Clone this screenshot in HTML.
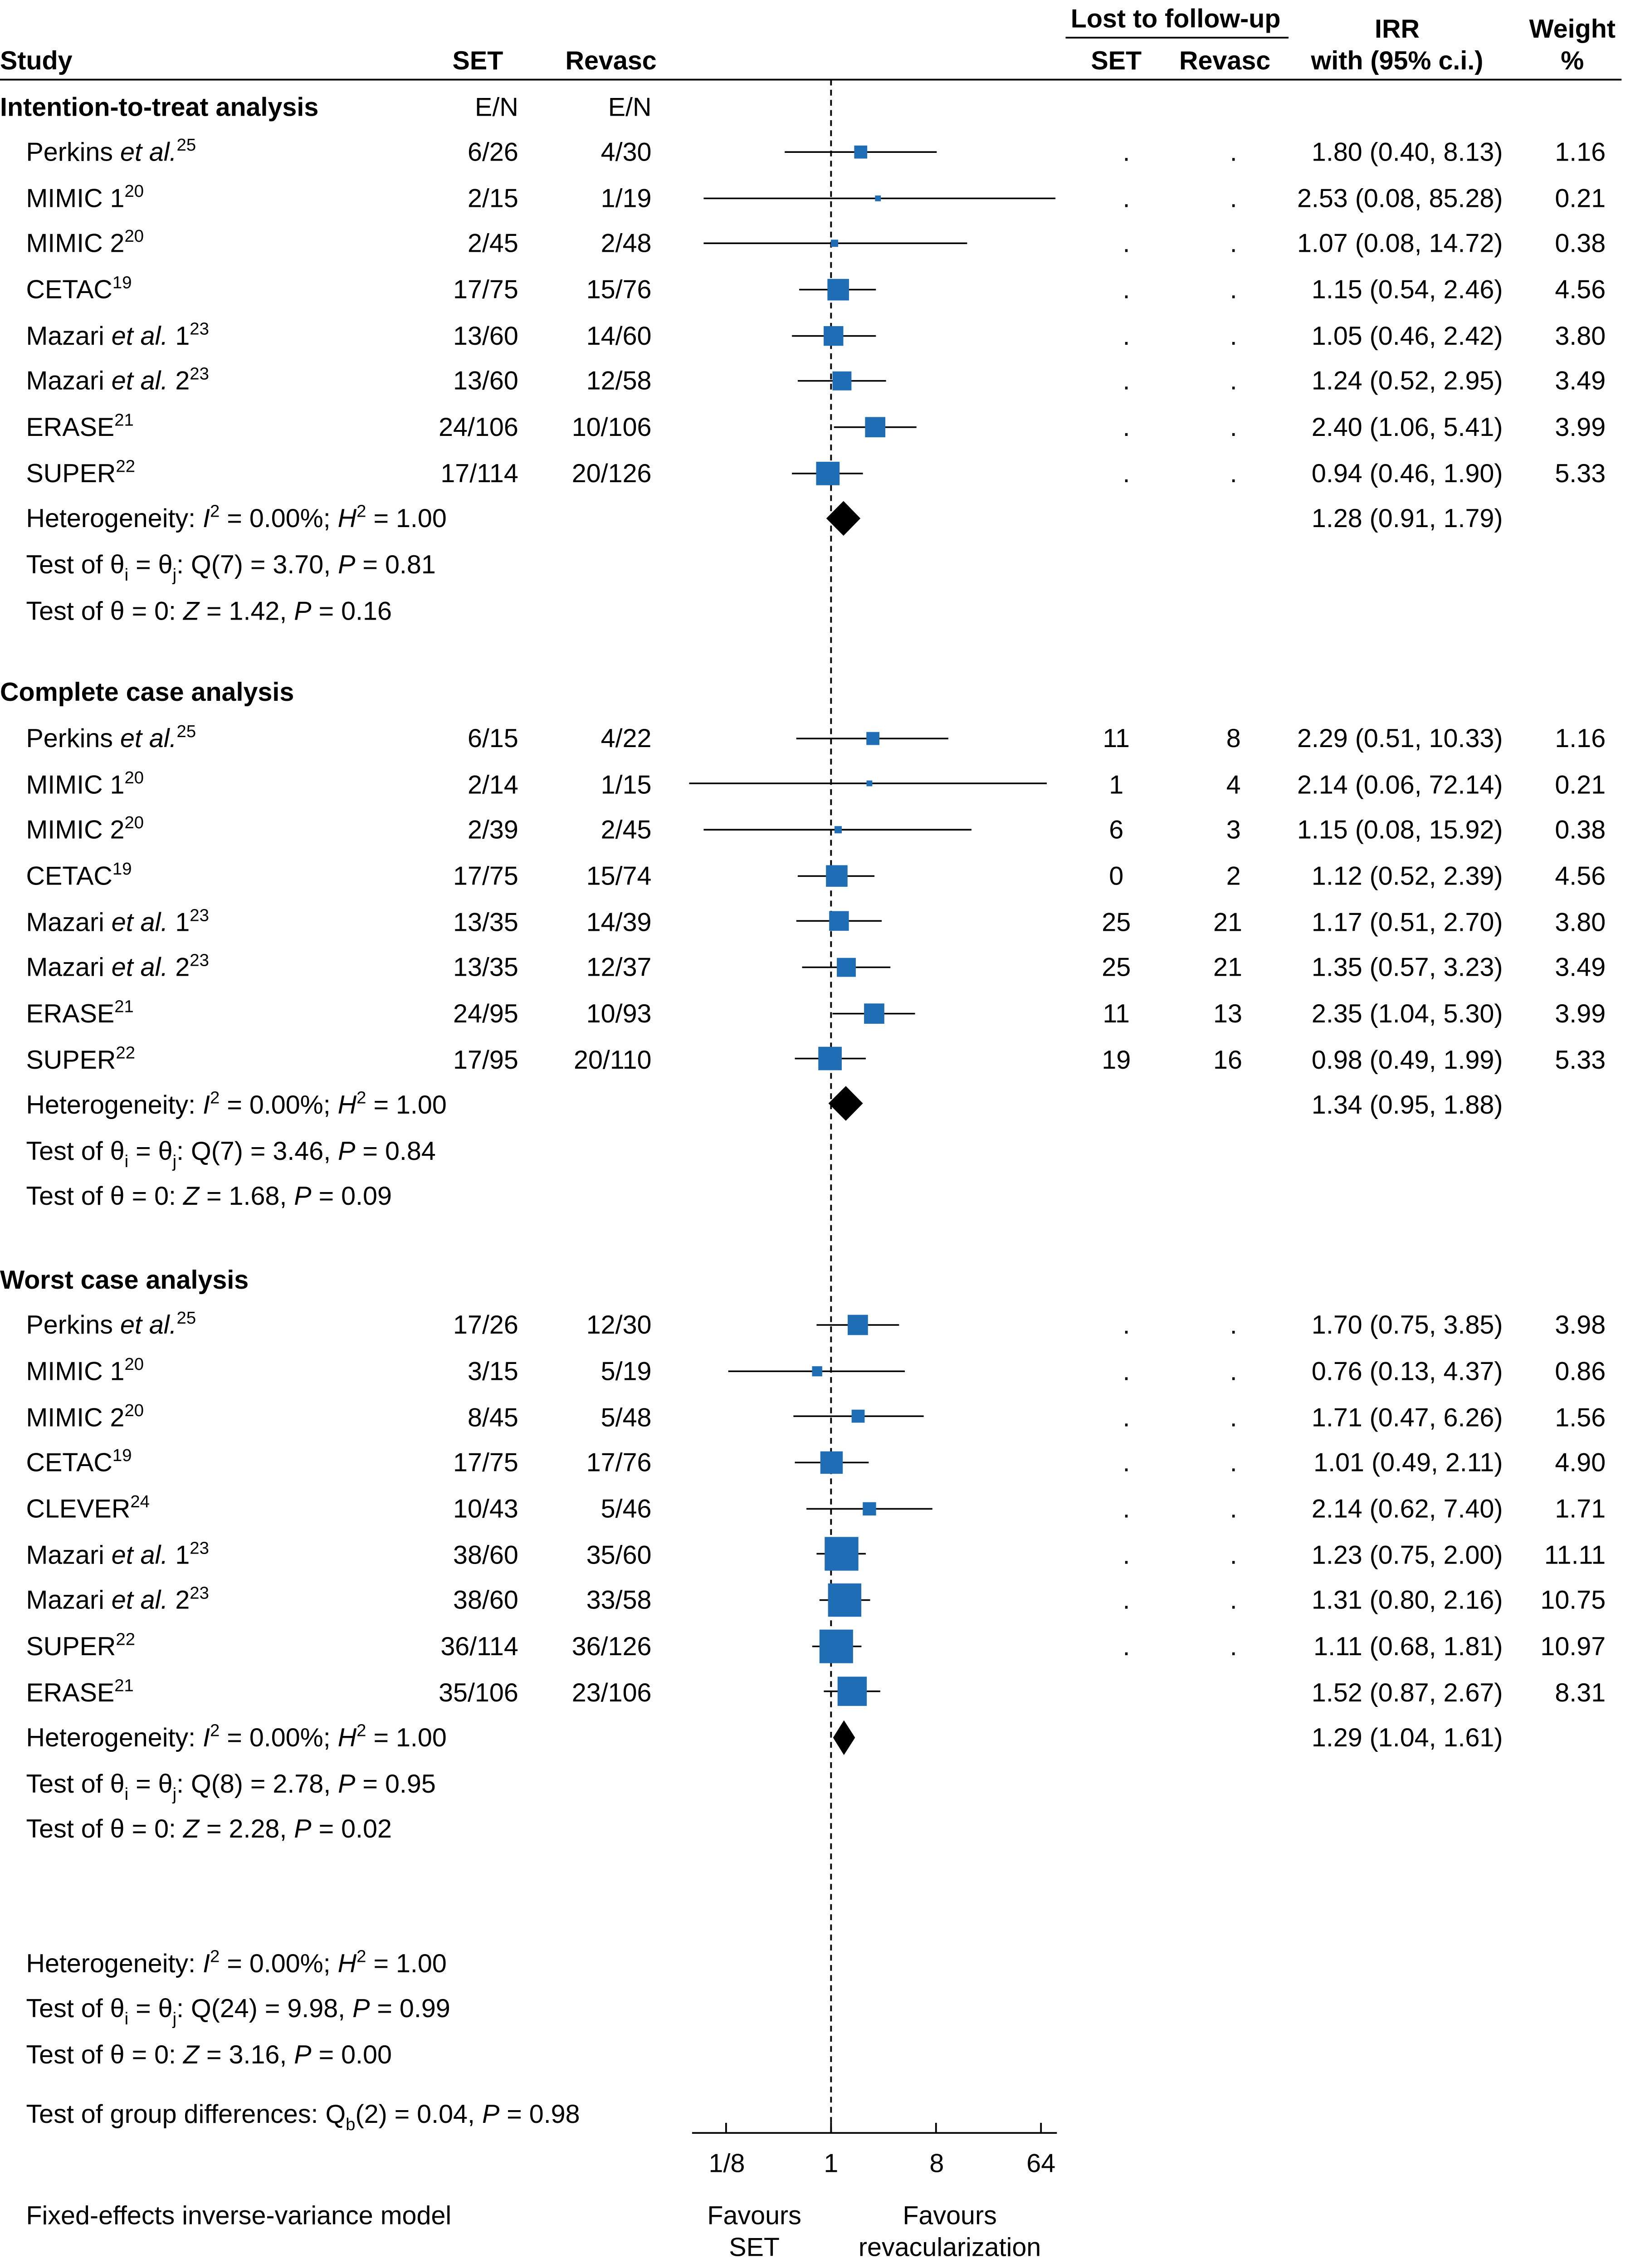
<!DOCTYPE html>
<html><head><meta charset="utf-8"><style>
html,body{margin:0;padding:0;background:#fff;width:3627px;height:5078px;overflow:hidden;}
svg{display:block;position:absolute;left:0;top:0;}
text{font-family:"Liberation Sans",Arial,sans-serif;font-size:18px;fill:#000;}
.b{font-weight:bold;}
.e{text-anchor:end;}
.m{text-anchor:middle;}
.sp{font-size:12px;}
</style></head><body>
<svg width="3627" height="5078" viewBox="0 0 1136.2 1590.7" preserveAspectRatio="none" xmlns="http://www.w3.org/2000/svg">
<rect width="1140" height="1600" fill="#fff"/>
<!-- header -->
<text x="0" y="48" class="b">Study</text>
<text x="330" y="48" class="b m">SET</text>
<text x="422" y="48" class="b m">Revasc</text>
<text x="812" y="19" class="b m">Lost to follow-up</text>
<line x1="736" y1="26" x2="890" y2="26" stroke="#000" stroke-width="1.2"/>
<text x="771" y="48" class="b m">SET</text>
<text x="846" y="48" class="b m">Revasc</text>
<text x="965" y="26" class="b m">IRR</text>
<text x="965" y="48" class="b m">with (95% c.i.)</text>
<text x="1086" y="26" class="b m">Weight</text>
<text x="1086" y="48" class="b m">%</text>
<line x1="0" y1="55" x2="1120" y2="55" stroke="#000" stroke-width="1.2"/>
<line x1="574" y1="55" x2="574" y2="1473" stroke="#000" stroke-width="1.2" stroke-dasharray="4,3"/>

<!-- ITT -->
<text x="0" y="80" class="b">Intention-to-treat analysis</text>
<text x="358" y="80" class="e">E/N</text>
<text x="450" y="80" class="e">E/N</text>
<g>
<text x="18" y="111">Perkins <tspan font-style="italic">et al.</tspan><tspan class="sp" dy="-7">25</tspan></text>
<text x="358" y="111" class="e">6/26</text><text x="450" y="111" class="e">4/30</text>
<text x="778" y="111" class="m">.</text><text x="852" y="111" class="m">.</text>
<text x="1038" y="111" class="e">1.80 (0.40, 8.13)</text><text x="1109" y="111" class="e">1.16</text>
<text x="18" y="143">MIMIC 1<tspan class="sp" dy="-7">20</tspan></text>
<text x="358" y="143" class="e">2/15</text><text x="450" y="143" class="e">1/19</text>
<text x="778" y="143" class="m">.</text><text x="852" y="143" class="m">.</text>
<text x="1038" y="143" class="e">2.53 (0.08, 85.28)</text><text x="1109" y="143" class="e">0.21</text>
<text x="18" y="174">MIMIC 2<tspan class="sp" dy="-7">20</tspan></text>
<text x="358" y="174" class="e">2/45</text><text x="450" y="174" class="e">2/48</text>
<text x="778" y="174" class="m">.</text><text x="852" y="174" class="m">.</text>
<text x="1038" y="174" class="e">1.07 (0.08, 14.72)</text><text x="1109" y="174" class="e">0.38</text>
<text x="18" y="206">CETAC<tspan class="sp" dy="-7">19</tspan></text>
<text x="358" y="206" class="e">17/75</text><text x="450" y="206" class="e">15/76</text>
<text x="778" y="206" class="m">.</text><text x="852" y="206" class="m">.</text>
<text x="1038" y="206" class="e">1.15 (0.54, 2.46)</text><text x="1109" y="206" class="e">4.56</text>
<text x="18" y="238">Mazari <tspan font-style="italic">et al.</tspan> 1<tspan class="sp" dy="-7">23</tspan></text>
<text x="358" y="238" class="e">13/60</text><text x="450" y="238" class="e">14/60</text>
<text x="778" y="238" class="m">.</text><text x="852" y="238" class="m">.</text>
<text x="1038" y="238" class="e">1.05 (0.46, 2.42)</text><text x="1109" y="238" class="e">3.80</text>
<text x="18" y="269">Mazari <tspan font-style="italic">et al.</tspan> 2<tspan class="sp" dy="-7">23</tspan></text>
<text x="358" y="269" class="e">13/60</text><text x="450" y="269" class="e">12/58</text>
<text x="778" y="269" class="m">.</text><text x="852" y="269" class="m">.</text>
<text x="1038" y="269" class="e">1.24 (0.52, 2.95)</text><text x="1109" y="269" class="e">3.49</text>
<text x="18" y="301">ERASE<tspan class="sp" dy="-7">21</tspan></text>
<text x="358" y="301" class="e">24/106</text><text x="450" y="301" class="e">10/106</text>
<text x="778" y="301" class="m">.</text><text x="852" y="301" class="m">.</text>
<text x="1038" y="301" class="e">2.40 (1.06, 5.41)</text><text x="1109" y="301" class="e">3.99</text>
<text x="18" y="333">SUPER<tspan class="sp" dy="-7">22</tspan></text>
<text x="358" y="333" class="e">17/114</text><text x="450" y="333" class="e">20/126</text>
<text x="778" y="333" class="m">.</text><text x="852" y="333" class="m">.</text>
<text x="1038" y="333" class="e">0.94 (0.46, 1.90)</text><text x="1109" y="333" class="e">5.33</text>
<text x="18" y="364">Heterogeneity: <tspan font-style="italic">I</tspan><tspan class="sp" dy="-7">2</tspan><tspan dy="7"> = 0.00%; </tspan><tspan font-style="italic">H</tspan><tspan class="sp" dy="-7">2</tspan><tspan dy="7"> = 1.00</tspan></text>
<text x="1038" y="364" class="e">1.28 (0.91, 1.79)</text>
<text x="18" y="396">Test of θ<tspan class="sp" dy="5">i</tspan><tspan dy="-5"> = θ</tspan><tspan class="sp" dy="5">j</tspan><tspan dy="-5">: Q(7) = 3.70, </tspan><tspan font-style="italic">P</tspan> = 0.81</text>
<text x="18" y="428">Test of θ = 0: <tspan font-style="italic">Z</tspan> = 1.42, <tspan font-style="italic">P</tspan> = 0.16</text>
</g>
<g stroke="#000" stroke-width="1.1">
<line x1="542" y1="105" x2="647" y2="105"/>
<line x1="486" y1="137" x2="729" y2="137"/>
<line x1="486" y1="168" x2="668" y2="168"/>
<line x1="552" y1="200" x2="605" y2="200"/>
<line x1="547" y1="232" x2="605" y2="232"/>
<line x1="551" y1="263" x2="612" y2="263"/>
<line x1="576" y1="295" x2="633" y2="295"/>
<line x1="547" y1="327" x2="596" y2="327"/>
</g>
<g fill="#1f6db5">
<rect x="590" y="100.5" width="9" height="9"/>
<rect x="604.4" y="135" width="4" height="4"/>
<rect x="573.9" y="165.5" width="5" height="5"/>
<rect x="571.5" y="192.6" width="14.9" height="14.9"/>
<rect x="568.9" y="225.2" width="13.6" height="13.6"/>
<rect x="575" y="256.5" width="13.1" height="13.1"/>
<rect x="597.5" y="288" width="14" height="14"/>
<rect x="563.7" y="318.9" width="16.2" height="16.2"/>
</g>
<polygon points="570.7,358 582.6,346 594.3,358 582.6,370" fill="#000"/>

<!-- Complete case -->
<text x="0" y="484" class="b">Complete case analysis</text>
<g>
<text x="18" y="516">Perkins <tspan font-style="italic">et al.</tspan><tspan class="sp" dy="-7">25</tspan></text>
<text x="358" y="516" class="e">6/15</text><text x="450" y="516" class="e">4/22</text>
<text x="771" y="516" class="m">11</text><text x="852" y="516" class="m">8</text>
<text x="1038" y="516" class="e">2.29 (0.51, 10.33)</text><text x="1109" y="516" class="e">1.16</text>
<text x="18" y="548">MIMIC 1<tspan class="sp" dy="-7">20</tspan></text>
<text x="358" y="548" class="e">2/14</text><text x="450" y="548" class="e">1/15</text>
<text x="771" y="548" class="m">1</text><text x="852" y="548" class="m">4</text>
<text x="1038" y="548" class="e">2.14 (0.06, 72.14)</text><text x="1109" y="548" class="e">0.21</text>
<text x="18" y="579">MIMIC 2<tspan class="sp" dy="-7">20</tspan></text>
<text x="358" y="579" class="e">2/39</text><text x="450" y="579" class="e">2/45</text>
<text x="771" y="579" class="m">6</text><text x="852" y="579" class="m">3</text>
<text x="1038" y="579" class="e">1.15 (0.08, 15.92)</text><text x="1109" y="579" class="e">0.38</text>
<text x="18" y="611">CETAC<tspan class="sp" dy="-7">19</tspan></text>
<text x="358" y="611" class="e">17/75</text><text x="450" y="611" class="e">15/74</text>
<text x="771" y="611" class="m">0</text><text x="852" y="611" class="m">2</text>
<text x="1038" y="611" class="e">1.12 (0.52, 2.39)</text><text x="1109" y="611" class="e">4.56</text>
<text x="18" y="643">Mazari <tspan font-style="italic">et al.</tspan> 1<tspan class="sp" dy="-7">23</tspan></text>
<text x="358" y="643" class="e">13/35</text><text x="450" y="643" class="e">14/39</text>
<text x="771" y="643" class="m">25</text><text x="848" y="643" class="m">21</text>
<text x="1038" y="643" class="e">1.17 (0.51, 2.70)</text><text x="1109" y="643" class="e">3.80</text>
<text x="18" y="674">Mazari <tspan font-style="italic">et al.</tspan> 2<tspan class="sp" dy="-7">23</tspan></text>
<text x="358" y="674" class="e">13/35</text><text x="450" y="674" class="e">12/37</text>
<text x="771" y="674" class="m">25</text><text x="848" y="674" class="m">21</text>
<text x="1038" y="674" class="e">1.35 (0.57, 3.23)</text><text x="1109" y="674" class="e">3.49</text>
<text x="18" y="706">ERASE<tspan class="sp" dy="-7">21</tspan></text>
<text x="358" y="706" class="e">24/95</text><text x="450" y="706" class="e">10/93</text>
<text x="771" y="706" class="m">11</text><text x="848" y="706" class="m">13</text>
<text x="1038" y="706" class="e">2.35 (1.04, 5.30)</text><text x="1109" y="706" class="e">3.99</text>
<text x="18" y="738">SUPER<tspan class="sp" dy="-7">22</tspan></text>
<text x="358" y="738" class="e">17/95</text><text x="450" y="738" class="e">20/110</text>
<text x="771" y="738" class="m">19</text><text x="848" y="738" class="m">16</text>
<text x="1038" y="738" class="e">0.98 (0.49, 1.99)</text><text x="1109" y="738" class="e">5.33</text>
<text x="18" y="769">Heterogeneity: <tspan font-style="italic">I</tspan><tspan class="sp" dy="-7">2</tspan><tspan dy="7"> = 0.00%; </tspan><tspan font-style="italic">H</tspan><tspan class="sp" dy="-7">2</tspan><tspan dy="7"> = 1.00</tspan></text>
<text x="1038" y="769" class="e">1.34 (0.95, 1.88)</text>
<text x="18" y="801">Test of θ<tspan class="sp" dy="5">i</tspan><tspan dy="-5"> = θ</tspan><tspan class="sp" dy="5">j</tspan><tspan dy="-5">: Q(7) = 3.46, </tspan><tspan font-style="italic">P</tspan> = 0.84</text>
<text x="18" y="832">Test of θ = 0: <tspan font-style="italic">Z</tspan> = 1.68, <tspan font-style="italic">P</tspan> = 0.09</text>
</g>
<g stroke="#000" stroke-width="1.1">
<line x1="550" y1="510" x2="655" y2="510"/>
<line x1="476" y1="541" x2="723" y2="541"/>
<line x1="486" y1="573" x2="671" y2="573"/>
<line x1="551" y1="605" x2="604" y2="605"/>
<line x1="550" y1="636" x2="609" y2="636"/>
<line x1="554" y1="668" x2="615" y2="668"/>
<line x1="575" y1="700" x2="632" y2="700"/>
<line x1="549" y1="731" x2="598" y2="731"/>
</g>
<g fill="#1f6db5">
<rect x="598.4" y="505.5" width="9" height="9"/>
<rect x="598.5" y="539" width="4" height="4"/>
<rect x="576.4" y="570.5" width="5" height="5"/>
<rect x="570.5" y="597.5" width="14.9" height="14.9"/>
<rect x="572.7" y="629.2" width="13.6" height="13.6"/>
<rect x="578" y="661.5" width="13.1" height="13.1"/>
<rect x="596.8" y="693" width="14" height="14"/>
<rect x="565.2" y="722.9" width="16.2" height="16.2"/>
</g>
<polygon points="572.2,762 584.2,750 596,762 584.2,774" fill="#000"/>

<!-- Worst case -->
<text x="0" y="890" class="b">Worst case analysis</text>
<g>
<text x="18" y="921">Perkins <tspan font-style="italic">et al.</tspan><tspan class="sp" dy="-7">25</tspan></text>
<text x="358" y="921" class="e">17/26</text><text x="450" y="921" class="e">12/30</text>
<text x="778" y="921" class="m">.</text><text x="852" y="921" class="m">.</text>
<text x="1038" y="921" class="e">1.70 (0.75, 3.85)</text><text x="1109" y="921" class="e">3.98</text>
<text x="18" y="953">MIMIC 1<tspan class="sp" dy="-7">20</tspan></text>
<text x="358" y="953" class="e">3/15</text><text x="450" y="953" class="e">5/19</text>
<text x="778" y="953" class="m">.</text><text x="852" y="953" class="m">.</text>
<text x="1038" y="953" class="e">0.76 (0.13, 4.37)</text><text x="1109" y="953" class="e">0.86</text>
<text x="18" y="985">MIMIC 2<tspan class="sp" dy="-7">20</tspan></text>
<text x="358" y="985" class="e">8/45</text><text x="450" y="985" class="e">5/48</text>
<text x="778" y="985" class="m">.</text><text x="852" y="985" class="m">.</text>
<text x="1038" y="985" class="e">1.71 (0.47, 6.26)</text><text x="1109" y="985" class="e">1.56</text>
<text x="18" y="1016">CETAC<tspan class="sp" dy="-7">19</tspan></text>
<text x="358" y="1016" class="e">17/75</text><text x="450" y="1016" class="e">17/76</text>
<text x="778" y="1016" class="m">.</text><text x="852" y="1016" class="m">.</text>
<text x="1038" y="1016" class="e">1.01 (0.49, 2.11)</text><text x="1109" y="1016" class="e">4.90</text>
<text x="18" y="1048">CLEVER<tspan class="sp" dy="-7">24</tspan></text>
<text x="358" y="1048" class="e">10/43</text><text x="450" y="1048" class="e">5/46</text>
<text x="778" y="1048" class="m">.</text><text x="852" y="1048" class="m">.</text>
<text x="1038" y="1048" class="e">2.14 (0.62, 7.40)</text><text x="1109" y="1048" class="e">1.71</text>
<text x="18" y="1080">Mazari <tspan font-style="italic">et al.</tspan> 1<tspan class="sp" dy="-7">23</tspan></text>
<text x="358" y="1080" class="e">38/60</text><text x="450" y="1080" class="e">35/60</text>
<text x="778" y="1080" class="m">.</text><text x="852" y="1080" class="m">.</text>
<text x="1038" y="1080" class="e">1.23 (0.75, 2.00)</text><text x="1109" y="1080" class="e">11.11</text>
<text x="18" y="1111">Mazari <tspan font-style="italic">et al.</tspan> 2<tspan class="sp" dy="-7">23</tspan></text>
<text x="358" y="1111" class="e">38/60</text><text x="450" y="1111" class="e">33/58</text>
<text x="778" y="1111" class="m">.</text><text x="852" y="1111" class="m">.</text>
<text x="1038" y="1111" class="e">1.31 (0.80, 2.16)</text><text x="1109" y="1111" class="e">10.75</text>
<text x="18" y="1143">SUPER<tspan class="sp" dy="-7">22</tspan></text>
<text x="358" y="1143" class="e">36/114</text><text x="450" y="1143" class="e">36/126</text>
<text x="778" y="1143" class="m">.</text><text x="852" y="1143" class="m">.</text>
<text x="1038" y="1143" class="e">1.11 (0.68, 1.81)</text><text x="1109" y="1143" class="e">10.97</text>
<text x="18" y="1175">ERASE<tspan class="sp" dy="-7">21</tspan></text>
<text x="358" y="1175" class="e">35/106</text><text x="450" y="1175" class="e">23/106</text>
<text x="1038" y="1175" class="e">1.52 (0.87, 2.67)</text><text x="1109" y="1175" class="e">8.31</text>
<text x="18" y="1206">Heterogeneity: <tspan font-style="italic">I</tspan><tspan class="sp" dy="-7">2</tspan><tspan dy="7"> = 0.00%; </tspan><tspan font-style="italic">H</tspan><tspan class="sp" dy="-7">2</tspan><tspan dy="7"> = 1.00</tspan></text>
<text x="1038" y="1206" class="e">1.29 (1.04, 1.61)</text>
<text x="18" y="1238">Test of θ<tspan class="sp" dy="5">i</tspan><tspan dy="-5"> = θ</tspan><tspan class="sp" dy="5">j</tspan><tspan dy="-5">: Q(8) = 2.78, </tspan><tspan font-style="italic">P</tspan> = 0.95</text>
<text x="18" y="1269">Test of θ = 0: <tspan font-style="italic">Z</tspan> = 2.28, <tspan font-style="italic">P</tspan> = 0.02</text>
</g>
<g stroke="#000" stroke-width="1.1">
<line x1="564" y1="915" x2="621" y2="915"/>
<line x1="503" y1="947" x2="625" y2="947"/>
<line x1="548" y1="978" x2="638" y2="978"/>
<line x1="549" y1="1010" x2="600" y2="1010"/>
<line x1="557" y1="1042" x2="644" y2="1042"/>
<line x1="564" y1="1073" x2="598" y2="1073"/>
<line x1="566" y1="1105" x2="601" y2="1105"/>
<line x1="561" y1="1137" x2="595" y2="1137"/>
<line x1="569" y1="1168" x2="608" y2="1168"/>
</g>
<g fill="#1f6db5">
<rect x="585.5" y="908" width="14" height="14"/>
<rect x="560.9" y="943.5" width="7" height="7"/>
<rect x="588.2" y="973.5" width="9" height="9"/>
<rect x="566.6" y="1002.3" width="15.5" height="15.5"/>
<rect x="595.9" y="1037.4" width="9.2" height="9.2"/>
<rect x="569.6" y="1061.4" width="23.3" height="23.3"/>
<rect x="571.9" y="1093.5" width="23" height="23"/>
<rect x="566" y="1125.4" width="23.2" height="23.2"/>
<rect x="578.5" y="1157.9" width="20.2" height="20.2"/>
</g>
<polygon points="575.4,1200 582.9,1188 590.6,1200 582.9,1212" fill="#000"/>

<!-- overall -->
<text x="18" y="1362">Heterogeneity: <tspan font-style="italic">I</tspan><tspan class="sp" dy="-7">2</tspan><tspan dy="7"> = 0.00%; </tspan><tspan font-style="italic">H</tspan><tspan class="sp" dy="-7">2</tspan><tspan dy="7"> = 1.00</tspan></text>
<text x="18" y="1393">Test of θ<tspan class="sp" dy="5">i</tspan><tspan dy="-5"> = θ</tspan><tspan class="sp" dy="5">j</tspan><tspan dy="-5">: Q(24) = 9.98, </tspan><tspan font-style="italic">P</tspan> = 0.99</text>
<text x="18" y="1425">Test of θ = 0: <tspan font-style="italic">Z</tspan> = 3.16, <tspan font-style="italic">P</tspan> = 0.00</text>
<text x="18" y="1466">Test of group differences: Q<tspan class="sp" dy="5">b</tspan><tspan dy="-5">(2) = 0.04, </tspan><tspan font-style="italic">P</tspan> = 0.98</text>

<!-- axis -->
<g stroke="#000" stroke-width="1.2">
<line x1="478" y1="1473" x2="730" y2="1473"/>
<line x1="501.5" y1="1466" x2="501.5" y2="1473"/>
<line x1="574" y1="1466" x2="574" y2="1473"/>
<line x1="646.5" y1="1466" x2="646.5" y2="1473"/>
<line x1="719" y1="1466" x2="719" y2="1473"/>
</g>
<text x="502" y="1500" class="m">1/8</text>
<text x="574" y="1500" class="m">1</text>
<text x="647" y="1500" class="m">8</text>
<text x="719" y="1500" class="m">64</text>
<text x="18" y="1536">Fixed-effects inverse-variance model</text>
<text x="521" y="1536" class="m">Favours</text>
<text x="521" y="1558" class="m">SET</text>
<text x="656" y="1536" class="m">Favours</text>
<text x="656" y="1558" class="m">revacularization</text>
</svg>
</body></html>
